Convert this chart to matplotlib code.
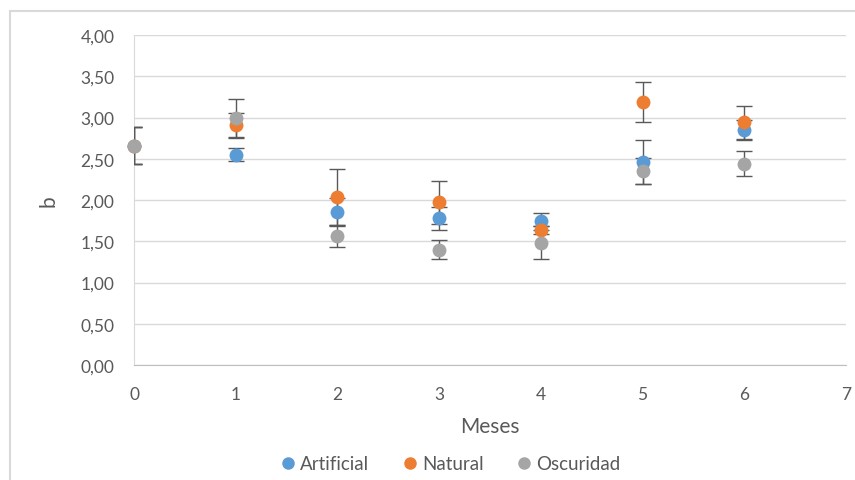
import matplotlib.pyplot as plt
from matplotlib.ticker import FuncFormatter, MultipleLocator
from matplotlib.patches import Rectangle

plt.rcParams["font.family"] = ["Lato", "DejaVu Sans"]

meses = [0, 1, 2, 3, 4, 5, 6]

artificial = [2.66, 2.55, 1.86, 1.78, 1.74, 2.46, 2.85]
artificial_err = [0.22, 0.08, 0.16, 0.14, 0.10, 0.27, 0.12]

natural = [2.66, 2.91, 2.04, 1.97, 1.64, 3.19, 2.94]
natural_err = [0.22, 0.15, 0.34, 0.26, 0.05, 0.24, 0.20]

oscuridad = [2.66, 2.99, 1.56, 1.40, 1.48, 2.35, 2.44]
oscuridad_err = [0.22, 0.24, 0.13, 0.12, 0.20, 0.16, 0.15]

series = [
    ("Artificial", artificial, artificial_err, "#5B9BD5"),
    ("Natural", natural, natural_err, "#ED7D31"),
    ("Oscuridad", oscuridad, oscuridad_err, "#A5A5A5"),
]

fig = plt.figure(figsize=(8.55, 4.81), dpi=100)
ax = fig.add_axes([134 / 855, 1 - 366 / 481, 712 / 855, 330 / 481])

# chart frame (Excel-style outer border)
fig.patches.append(Rectangle((10 / 855, -0.1), 1.0, 1 - 12 / 481 + 0.1,
                             transform=fig.transFigure, fill=False,
                             edgecolor="#d9d9d9", linewidth=1.5))

for i, (name, vals, errs, color) in enumerate(series):
    ax.errorbar(meses, vals, yerr=errs, fmt="none", ecolor="#595959",
                elinewidth=1.0, capsize=6, capthick=1.0, zorder=2 + i)
    ax.plot(meses, vals, "o", color=color, markersize=10, label=name,
            markeredgewidth=0, zorder=5 + i, clip_on=False)

ax.set_xlim(0, 7)
ax.set_ylim(0, 4)
ax.yaxis.set_major_locator(MultipleLocator(0.5))
ax.xaxis.set_major_locator(MultipleLocator(1))
ax.yaxis.set_major_formatter(FuncFormatter(lambda v, _: f"{v:.2f}".replace(".", ",")))

ax.grid(axis="y", color="#d9d9d9", linewidth=1.0)
ax.set_axisbelow(True)
for side in ["top", "right"]:
    ax.spines[side].set_visible(False)
ax.spines["left"].set_color("#d9d9d9")
ax.spines["bottom"].set_color("#bfbfbf")
ax.tick_params(length=0, colors="#595959", labelsize=12.5)
ax.tick_params(axis="x", pad=15)
ax.tick_params(axis="y", pad=14)

ax.set_xlabel("Meses", fontsize=15, color="#595959", labelpad=10)
ax.set_ylabel("b", fontsize=15, color="#595959", labelpad=16)

ax.legend(loc="center", bbox_to_anchor=(0.445, -0.3), ncol=3, frameon=False,
          fontsize=13.5, labelcolor="#595959", handlelength=0.7, handletextpad=0.3,
          columnspacing=1.8, markerscale=0.9, borderpad=0)

fig.savefig("out.png", dpi=100)
